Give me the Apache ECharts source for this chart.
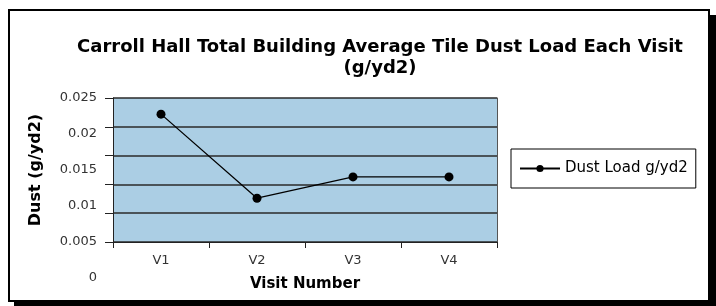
<!DOCTYPE html>
<html>
<head>
<meta charset="utf-8">
<script src="https://cdn.jsdelivr.net/npm/echarts@6/dist/echarts.min.js"></script>
<style>
  html, body { margin: 0; padding: 0; background: #fff; }
</style>
</head>
<body>
<div id="chart" style="width: 716px;height: 306px;"></div>
<script>
// categories and values
const visits = ['V1', 'V2', 'V3', 'V4']
const dustLoad = [0.0222, 0.0076, 0.0113, 0.0113]
// y tick labels as printed in the picture
const yTickLabels = ['0', '0.005', '0.01', '0.015', '0.02', '0.025']

const font = 'DejaVu Sans'
const myChart = echarts.init(document.getElementById('chart'))

const option = {
  backgroundColor: '#fff',
  // frame with shadow
  graphic: [
    { type: 'rect', shape: { x: 14, y: 15, width: 702, height: 291 }, style: { fill: '#000' }, z: -10 },
    { type: 'rect', shape: { x: 9, y: 10, width: 700, height: 291 }, style: { fill: '#fff', stroke: '#000', lineWidth: 2 }, z: -9 }
  ],
  title: {
    text: 'Carroll Hall Total Building Average Tile Dust Load Each Visit\n(g/yd2)',
    left: 375,
    top: 32,
    textAlign: 'center',
    textStyle: { fontFamily: font, fontSize: 18, fontWeight: 'bold', color: '#000', lineHeight: 21 }
  },
  legend: {
    left: 511,
    top: 149,
    padding: [12, 8],
    itemWidth: 40,
    itemHeight: 9,
    itemGap: 6,
    borderColor: '#000',
    borderWidth: 1,
    textStyle: { fontFamily: font, fontSize: 15, color: '#000' }
  },
  grid: [
    // plot area
    { left: 113, top: 98, right: 219, bottom: 64, show: true, backgroundColor: '#abcee4', borderWidth: 0 },
    // labels only
    { left: 113, top: 98, right: 219, bottom: 28, show: false }
  ],
  xAxis: [
    {
      type: 'category',
      gridIndex: 0,
      data: visits,
      boundaryGap: true,
      name: 'Visit Number',
      nameLocation: 'middle',
      nameGap: 35,
      nameTextStyle: { fontFamily: font, fontSize: 15, fontWeight: 'bold', color: '#000' },
      axisLine: { lineStyle: { color: '#222', width: 1 } },
      axisTick: { show: true, length: 6, lineStyle: { color: '#222' } },
      axisLabel: { margin: 12, fontFamily: font, fontSize: 13, color: '#333' },
      splitLine: { show: false }
    },
    { type: 'category', gridIndex: 1, data: visits, show: false }
  ],
  yAxis: [
    {
      type: 'value',
      gridIndex: 0,
      min: 0,
      max: 0.025,
      interval: 0.005,
      name: 'Dust (g/yd2)',
      nameLocation: 'middle',
      nameGap: 69,
      nameTextStyle: { fontFamily: font, fontSize: 16, fontWeight: 'bold', color: '#000' },
      axisLine: { show: true, lineStyle: { color: '#222', width: 1 } },
      axisTick: { show: true, length: 8, lineStyle: { color: '#222' } },
      axisLabel: { show: false },
      splitLine: { show: true, lineStyle: { color: '#2a2a2a', width: 1.5 } }
    },
    {
      // right border of the plot area
      type: 'value',
      gridIndex: 0,
      position: 'right',
      min: 0,
      max: 0.025,
      axisLine: { show: true, lineStyle: { color: '#555', width: 1 } },
      axisTick: { show: false },
      axisLabel: { show: false },
      splitLine: { show: false }
    },
    {
      type: 'value',
      gridIndex: 1,
      min: 0,
      max: 0.025,
      interval: 0.005,
      axisLine: { show: false },
      axisTick: { show: false },
      splitLine: { show: false },
      axisLabel: {
        margin: 16,
        fontFamily: font,
        fontSize: 13,
        color: '#333',
        formatter: function (v) {
          return yTickLabels[Math.round(v / 0.005)]
        }
      }
    }
  ],
  series: [
    {
      name: 'Dust Load g/yd2',
      type: 'line',
      xAxisIndex: 0,
      yAxisIndex: 0,
      data: dustLoad,
      symbol: 'circle',
      symbolSize: 9,
      itemStyle: { color: '#000' },
      lineStyle: { color: '#000', width: 1.3 },
      animation: false
    }
  ]
}

myChart.setOption(option)
</script>
</body>
</html>
